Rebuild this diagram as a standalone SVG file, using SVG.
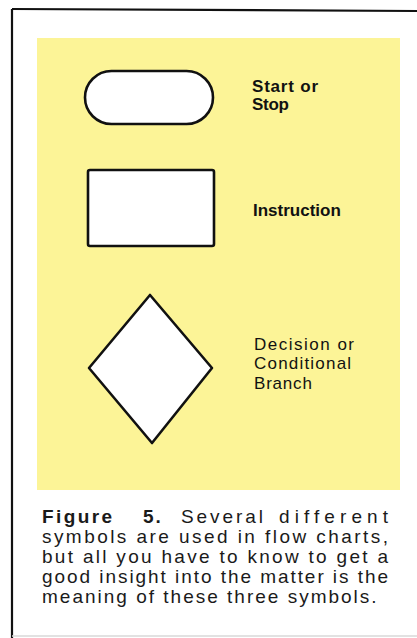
<svg xmlns="http://www.w3.org/2000/svg" width="417" height="638" viewBox="0 0 417 638">
<style>
.shape{fill:#ffffff;stroke:#111111;stroke-width:2.6;stroke-linejoin:round}
.lbl{font-family:"Liberation Sans",Arial,sans-serif;font-size:17px;fill:#111111}
.cap{font-family:"Liberation Sans",Arial,sans-serif;font-size:19px;fill:#1a1a1a;letter-spacing:2px}
</style>
<rect x="0" y="0" width="417" height="638" fill="#ffffff"/>
<g id="frame">
<line x1="12" y1="9" x2="417" y2="11" stroke="#111111" stroke-width="2.2"/>
<line x1="12" y1="9" x2="12" y2="638" stroke="#111111" stroke-width="2.2"/>
<line x1="12" y1="636" x2="417" y2="636" stroke="#d8d8d8" stroke-width="1.5"/>
</g>
<rect id="panel" x="37" y="38" width="363" height="452" fill="#fcf497"/>
<g id="start-stop">
<rect class="shape" x="85" y="71" width="128" height="53" rx="26.5"/>
<text class="lbl" font-weight="bold" font-size="16" textLength="66" lengthAdjust="spacing" x="252" y="91.5">Start or</text>
<text class="lbl" font-weight="bold" font-size="16" textLength="37" lengthAdjust="spacing" x="252" y="109.5">Stop</text>
</g>
<g id="instruction">
<rect class="shape" x="88" y="170" width="126" height="76" rx="2"/>
<text class="lbl" font-weight="bold" x="253" y="216">Instruction</text>
</g>
<g id="decision">
<polygon class="shape" points="150,295 212,368 152,443 89,368"/>
<text class="lbl" letter-spacing="1.5" x="254" y="350">Decision or</text>
<text class="lbl" letter-spacing="1.2" x="254" y="369">Conditional</text>
<text class="lbl" letter-spacing="0.8" x="254" y="389">Branch</text>
</g>
<g id="connectors"></g>
<g id="caption">
<text class="cap" font-weight="bold" x="42" y="523" textLength="72" lengthAdjust="spacing">Figure</text>
<text class="cap" font-weight="bold" x="143" y="523">5.</text>
<text class="cap" x="181" y="523" textLength="84" lengthAdjust="spacing">Several</text>
<text class="cap" x="279" y="523" textLength="111" lengthAdjust="spacing">different</text>
<text class="cap" x="42" y="543" textLength="348" lengthAdjust="spacing">symbols are used in flow charts,</text>
<text class="cap" x="42" y="563" textLength="348" lengthAdjust="spacing">but all you have to know to get a</text>
<text class="cap" x="42" y="583" textLength="348" lengthAdjust="spacing">good insight into the matter is the</text>
<text class="cap" x="42" y="603">meaning of these three symbols.</text>
</g>
</svg>
